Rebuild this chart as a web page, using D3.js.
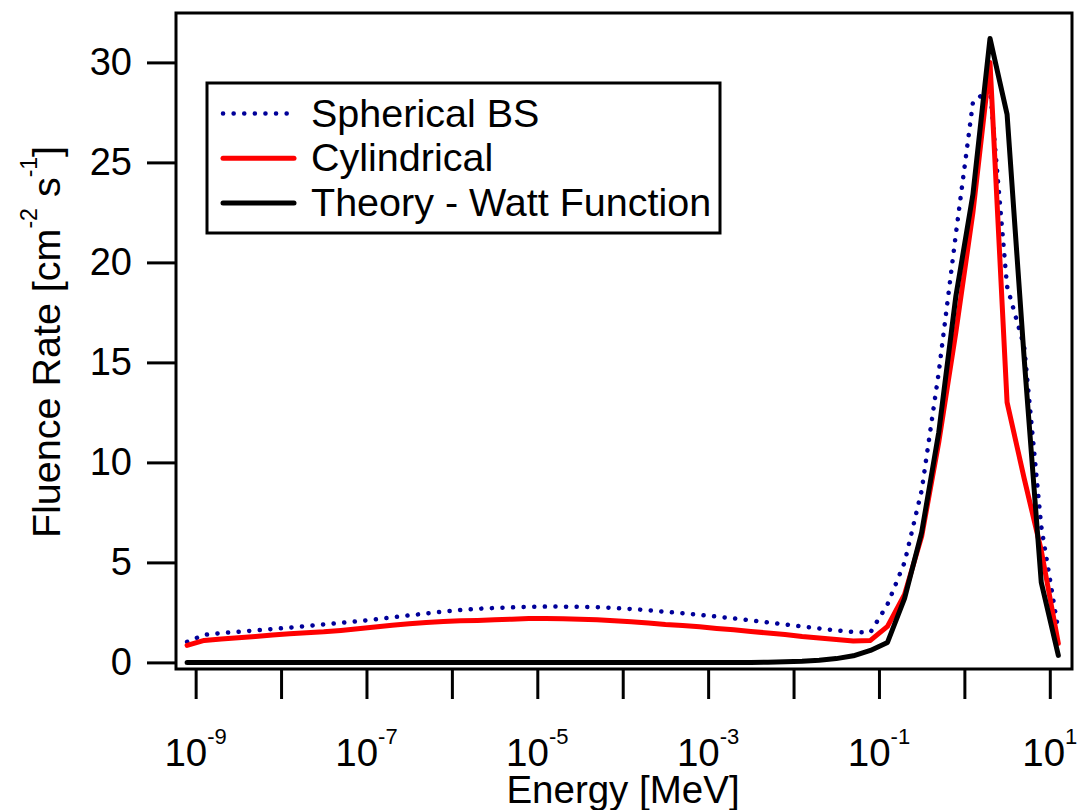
<!DOCTYPE html>
<html>
<head>
<meta charset="utf-8">
<script src="https://cdn.jsdelivr.net/npm/d3@7"></script>
<style>
  body { margin: 0; background: #fff; }
  text { font-family: "Liberation Sans", Arial, sans-serif; fill: #000; }
</style>
</head>
<body>
<script>
// neutron spectrum: three curves on a log energy axis

var width = 1077;
var height = 810;

// log10 of energy in MeV, shared by all three series
var logEnergy = [
  -9.1, -8.9, -8.7, -8.5, -8.3, -8.1, -7.9, -7.7, -7.5, -7.3,
  -7.1, -6.9, -6.7, -6.5, -6.3, -6.1, -5.9, -5.7, -5.5, -5.3,
  -5.1, -4.9, -4.7, -4.5, -4.3, -4.1, -3.9, -3.7, -3.5, -3.3,
  -3.1, -2.9, -2.7, -2.5, -2.3, -2.1, -1.9, -1.7, -1.5, -1.3,
  -1.1, -0.9, -0.7, -0.5, -0.3, -0.1, 0.1, 0.3, 0.5, 0.7,
  0.9, 1.1
];

var spherical = [
  1.03, 1.38, 1.47, 1.53, 1.6, 1.67, 1.74, 1.82, 1.9, 1.98,
  2.06, 2.15, 2.25, 2.35, 2.45, 2.54, 2.62, 2.68, 2.72, 2.75,
  2.78, 2.79, 2.79, 2.78, 2.76, 2.72, 2.67, 2.61, 2.53, 2.46,
  2.38, 2.29, 2.2, 2.1, 2.0, 1.9, 1.8, 1.7, 1.6, 1.52,
  1.5, 2.9, 5.0, 8.6, 14.5, 21.4, 28.0, 28.7, 18.8, 15.8,
  6.8, 1.6
];

var cylindrical = [
  0.85, 1.1, 1.17, 1.23, 1.3, 1.37, 1.43, 1.48, 1.53, 1.6,
  1.68, 1.77, 1.86, 1.93, 1.99, 2.04, 2.08, 2.1, 2.13, 2.16,
  2.2, 2.2, 2.18, 2.16, 2.13, 2.08, 2.03, 1.97, 1.9, 1.85,
  1.78, 1.7, 1.63, 1.55, 1.47, 1.4, 1.3, 1.22, 1.15, 1.07,
  1.1, 1.8, 3.4, 6.3, 11.0, 16.5, 22.5, 30.0, 13.0, 9.2,
  5.6, 0.95
];

var watt = [
  0, 0, 0, 0, 0, 0, 0, 0, 0, 0,
  0, 0, 0, 0, 0, 0, 0, 0, 0, 0,
  0, 0, 0, 0, 0, 0, 0, 0, 0, 0,
  0, 0, 0, 0, 0.01, 0.03, 0.06, 0.11, 0.19, 0.33,
  0.6, 1.0, 3.2, 6.5, 11.5, 18.3, 23.4, 31.2, 27.4, 15.2,
  4.0, 0.35
];

var xTickExps = [-9, -8, -7, -6, -5, -4, -3, -2, -1, 0, 1];
var yTicks = [0, 5, 10, 15, 20, 25, 30];

var seriesNames = ["Spherical BS", "Cylindrical", "Theory - Watt Function"];

var plotLeft = 176, plotRight = 1072, plotTop = 13, plotBottom = 669;

var svg = d3.select("body").append("svg")
    .attr("width", width)
    .attr("height", height);

var x = d3.scaleLog()
    .domain([Math.pow(10, -9.23), Math.pow(10, 1.26)])
    .range([plotLeft, plotRight]);

var y = d3.scaleLinear()
    .domain([-0.33, 32.47])
    .range([plotBottom, plotTop]);

var series = [
  { name: seriesNames[0], values: spherical, color: "#000099", width: 4.5, dash: "0.1 10.5" },
  { name: seriesNames[1], values: cylindrical, color: "#ff0000", width: 5, dash: null },
  { name: seriesNames[2], values: watt, color: "#000000", width: 5, dash: null }
];

var line = d3.line()
    .x(function(d) { return x(Math.pow(10, d[0])); })
    .y(function(d) { return y(d[1]); });

svg.selectAll("path.series")
    .data(series)
    .enter()
    .append("path")
    .attr("class", "series")
    .attr("d", function(s) {
      return line(logEnergy.map(function(e, i) { return [e, s.values[i]]; }));
    })
    .attr("fill", "none")
    .attr("stroke", function(s) { return s.color; })
    .attr("stroke-width", function(s) { return s.width; })
    .attr("stroke-dasharray", function(s) { return s.dash; })
    .attr("stroke-linecap", "round")
    .attr("stroke-linejoin", "round");

// frame
svg.append("rect")
    .attr("x", plotLeft)
    .attr("y", plotTop)
    .attr("width", plotRight - plotLeft)
    .attr("height", plotBottom - plotTop)
    .attr("fill", "none")
    .attr("stroke", "#000")
    .attr("stroke-width", 3);

// y axis
var yAxis = svg.append("g")
    .attr("transform", "translate(" + plotLeft + ",0)")
    .call(d3.axisLeft(y).tickValues(yTicks).tickSize(29).tickPadding(15));
yAxis.select(".domain").remove();
yAxis.selectAll(".tick line").attr("stroke-width", 3);
yAxis.selectAll(".tick text")
    .style("font-size", "38px")
    .style("font-family", "'Liberation Sans', Arial, sans-serif");

// x axis, labels only on odd decades
var xAxis = svg.append("g")
    .attr("transform", "translate(0," + plotBottom + ")")
    .call(d3.axisBottom(x)
      .tickValues(xTickExps.map(function(e) { return Math.pow(10, e); }))
      .tickSize(30)
      .tickFormat(""));
xAxis.select(".domain").remove();
xAxis.selectAll(".tick line").attr("stroke-width", 3);

var xLabels = svg.selectAll("text.xlabel")
    .data(xTickExps.filter(function(e) { return e % 2 !== 0; }))
    .enter()
    .append("text")
    .attr("class", "xlabel")
    .attr("x", function(e) { return x(Math.pow(10, e)); })
    .attr("y", 766)
    .attr("text-anchor", "middle")
    .style("font-size", "38.5px");
xLabels.append("tspan").text("10");
xLabels.append("tspan")
    .attr("dy", -22)
    .style("font-size", "22px")
    .text(function(e) { return e; });

// axis titles
svg.append("text")
    .attr("x", 623)
    .attr("y", 803)
    .attr("text-anchor", "middle")
    .style("font-size", "38.5px")
    .text("Energy [MeV]");

var yTitle = svg.append("text")
    .attr("transform", "translate(60,342) rotate(-90)")
    .attr("text-anchor", "middle")
    .style("font-size", "39.5px");
yTitle.append("tspan").text("Fluence Rate [cm");
yTitle.append("tspan").attr("dy", -23).style("font-size", "23px").text("-2");
yTitle.append("tspan").attr("dy", 23).text(" s");
yTitle.append("tspan").attr("dy", -23).style("font-size", "23px").text("-1");
yTitle.append("tspan").attr("dy", 23).text("]");

// legend
var legend = svg.append("g");
legend.append("rect")
    .attr("x", 207)
    .attr("y", 83)
    .attr("width", 513)
    .attr("height", 150)
    .attr("fill", "#fff")
    .attr("stroke", "#000")
    .attr("stroke-width", 3);

var rows = legend.selectAll("g.row")
    .data(series)
    .enter()
    .append("g")
    .attr("class", "row")
    .attr("transform", function(d, i) { return "translate(0," + (113.5 + i * 44.7) + ")"; });

rows.append("line")
    .attr("x1", 223)
    .attr("x2", 294)
    .attr("stroke", function(s) { return s.color; })
    .attr("stroke-width", function(s) { return s.width; })
    .attr("stroke-dasharray", function(s) { return s.dash; })
    .attr("stroke-linecap", "round");

rows.append("text")
    .attr("x", 311)
    .attr("y", 13)
    .style("font-size", "39.5px")
    .text(function(s) { return s.name; });
</script>
</body>
</html>
